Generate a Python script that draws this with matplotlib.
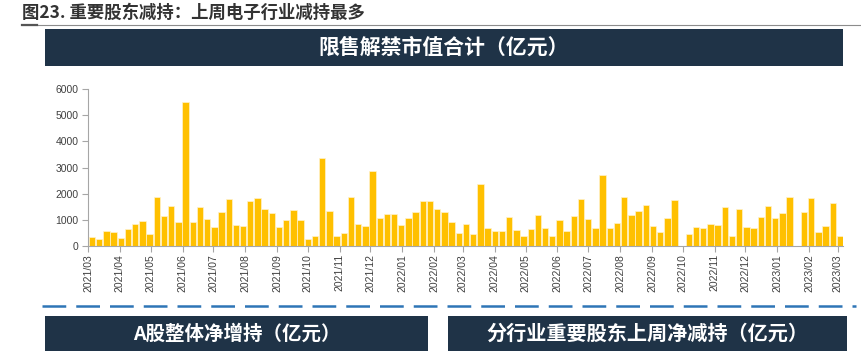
import matplotlib
matplotlib.use("Agg")
import matplotlib.pyplot as plt
import matplotlib.dates as mdates
import matplotlib.patches as patches
import numpy as np
import pandas as pd

plt.rcParams['font.family'] = ['Noto Sans CJK SC', 'DejaVu Sans']

# weekly unlock value (亿元), None = no data that week
weeks = pd.date_range("2021-03-05", periods=105, freq="7D")
unlock = [330, 245, 565, 525, 295, 630, 835, 950, 450, 1860,
          1155, 1540, 900, 5510, 900, 1500, 1010, 730, 1280, 1790,
          810, 760, 1720, 1840, 1400, 1245, 730, 990, 1385, 990,
          255, 370, 3370, 1330, 370, 490, 1885, 835, 755, 2870,
          1050, 1230, 1230, 780, 1075, 1310, 1720, 1720, 1400, 1295,
          900, 490, 835, 450, 2385, 665, 565, 565, 1115, 590,
          385, 640, 1190, 690, 385, 975, 565, 1140, 1780, 1010,
          680, 2705, 680, 885, 1860, 1165, 1335, 1550, 770, 525,
          1060, 1755, None, 460, 730, 680, 820, 790, 1475, 385,
          1400, 710, 690, 1090, 1540, 1070, 1270, 1875, None, 1295,
          1835, 520, 760, 1630, 390]
yticks = [0, 1000, 2000, 3000, 4000, 5000, 6000]

title = "图23. 重要股东减持：上周电子行业减持最多"
top_banner = "限售解禁市值合计（亿元）"
left_banner = "A股整体净增持（亿元）"
right_banner = "分行业重要股东上周净减持（亿元）"

W, H = 861, 360
navy = "#1f3347"


def fx(x):
    return x / W


def fy(y):
    return 1 - y / H


def banner(fig, x0, y0, x1, y1, text, size):
    rect = patches.Rectangle((fx(x0), fy(y1)), fx(x1 - x0), (y1 - y0) / H,
                             transform=fig.transFigure, facecolor=navy,
                             edgecolor="none")
    fig.add_artist(rect)
    fig.text(fx((x0 + x1) / 2), fy((y0 + y1) / 2), text, color="white",
             fontsize=size, fontweight="bold", ha="center", va="center")


fig = plt.figure(figsize=(W / 100, H / 100), dpi=100)

# title and rule
fig.text(fx(22), fy(13), title, fontsize=12.5, fontweight="bold",
         color="#333333", ha="left", va="center")
fig.add_artist(plt.Line2D([fx(22), fx(861)], [fy(24.5), fy(24.5)],
                          transform=fig.transFigure, color="#8c8c8c", lw=0.8))
fig.add_artist(plt.Line2D([fx(22), fx(37)], [fy(24.5), fy(24.5)],
                          transform=fig.transFigure, color="#555555", lw=1.6))

banner(fig, 45, 29, 843, 66, top_banner, 15)

# bar chart
ax = fig.add_axes([fx(88), fy(245.7), fx(843 - 88), (245.7 - 89.3) / H])
x = [d for d, v in zip(weeks, unlock) if v is not None]
y = [v for v in unlock if v is not None]
ax.bar(x, y, width=6.2, color="#ffc000", edgecolor="#fff2cc", linewidth=0.5)

ax.set_ylim(0, 6000)
ax.set_yticks(yticks)
ax.set_xlim(pd.Timestamp("2021-03-01"), pd.Timestamp("2023-03-06"))
ax.xaxis.set_major_locator(mdates.MonthLocator())
ax.xaxis.set_major_formatter(mdates.DateFormatter("%Y/%m"))
for lab in ax.get_xticklabels():
    lab.set_rotation(90)
for lab in ax.get_xticklabels() + ax.get_yticklabels():
    lab.set_family(['Liberation Sans', 'DejaVu Sans'])
ax.tick_params(axis="both", labelsize=7.5, colors="#404040", length=4,
               width=0.8, color="#a6a6a6")
ax.tick_params(axis="y", pad=3)
ax.tick_params(axis="x", pad=2)
ax.spines["top"].set_visible(False)
ax.spines["right"].set_visible(False)
ax.spines["left"].set_color("#a6a6a6")
ax.spines["bottom"].set_color("#a6a6a6")

# dashed separator
fig.add_artist(plt.Line2D([fx(42), fx(856)], [fy(305.5), fy(305.5)],
                          transform=fig.transFigure, color="#2e75b6", lw=1.8,
                          linestyle=(0, (9.5, 4))))

banner(fig, 45, 316, 428, 351, left_banner, 14)
banner(fig, 448, 316, 847, 351, right_banner, 14.5)

fig.savefig("out.png", dpi=100)
